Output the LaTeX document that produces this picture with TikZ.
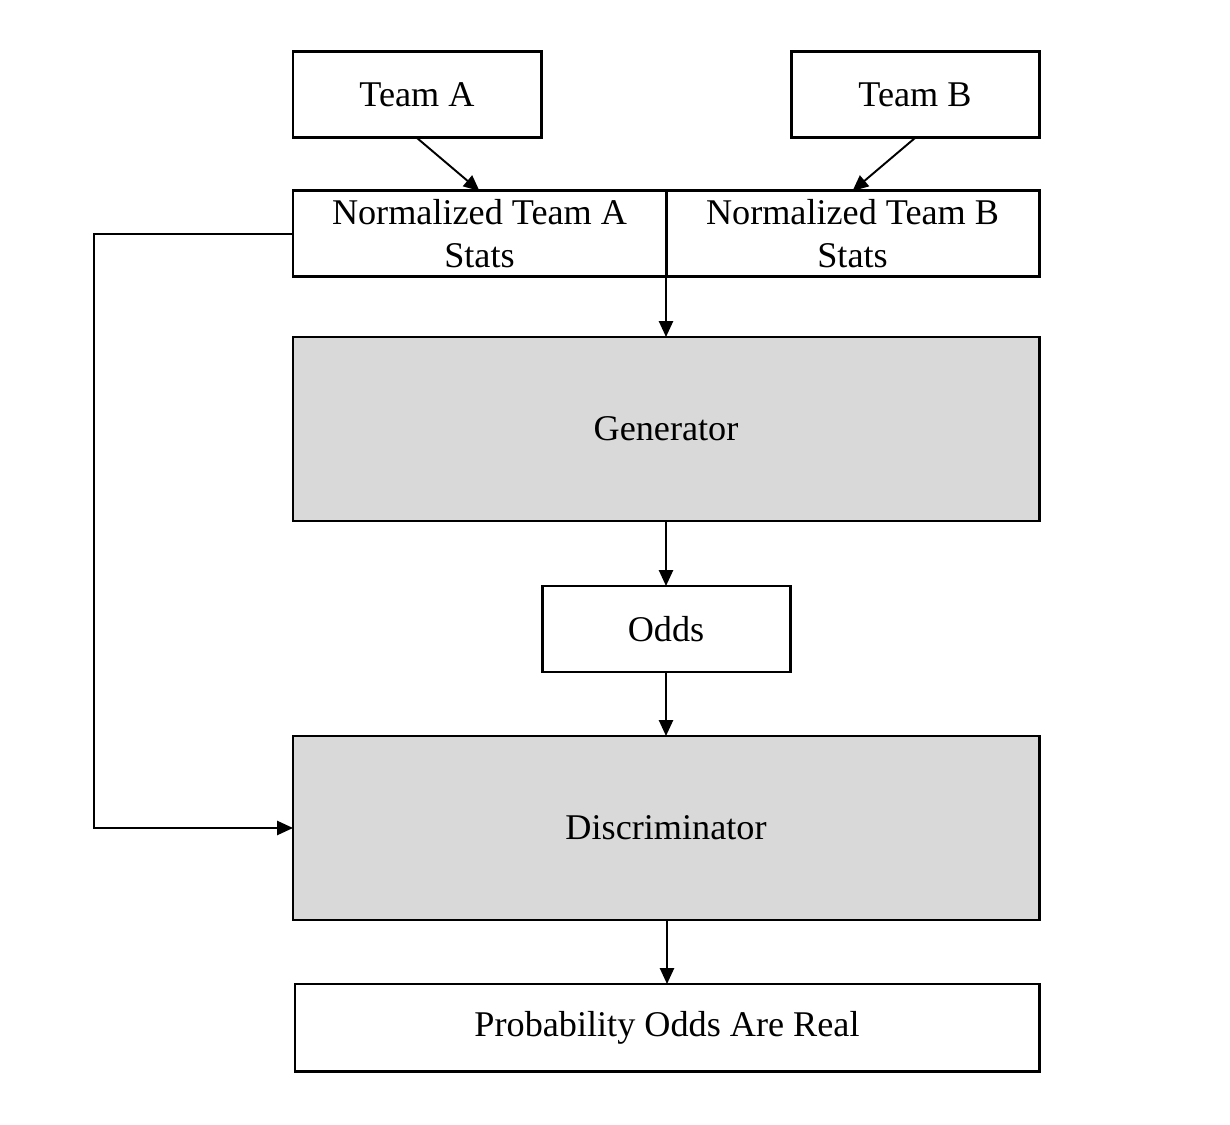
\documentclass[tikz,border=0pt]{standalone}
\usepackage{fontspec}
\setmainfont{Liberation Serif}
\usetikzlibrary{arrows.meta}

\begin{document}
\begin{tikzpicture}[
    >={Triangle[length=9pt, width=8pt]},
    box/.style = {draw, line width=1.7pt, rectangle, inner sep=0pt, outer sep=0pt,
    align=center, font=\fontsize{20.6}{24.5}\selectfont},
    small/.style = {box, minimum width=4.96cm, minimum height=1.72cm},
    half/.style = {box, minimum width=7.46cm, minimum height=1.72cm},
    big/.style = {box, fill={rgb,255:red,217;green,217;blue,217},
    minimum width=14.92cm, minimum height=3.68cm},
    link/.style = {line width=1.1pt},
]
\useasboundingbox (0,0) rectangle (24.6,22.48);

\node[small] (team_a) at (8.34,20.58) {\raisebox{-1.5pt}{Team A}};
\node[small] (team_b) at (18.30,20.58) {\raisebox{-1.5pt}{Team B}};
\node[half] (norm_a) at (9.59,17.80) {Normalized Team A\\Stats};
\node[half] (norm_b) at (17.05,17.80) {Normalized Team B\\Stats};
\node[big] (gen) at (13.32,13.90) {\raisebox{-1.5pt}{Generator}};
\node[small] (odds) at (13.32,9.90) {\raisebox{-1.5pt}{Odds}};
\node[big] (disc) at (13.32,5.92) {\raisebox{-1.5pt}{Discriminator}};
\node[box, minimum width=14.88cm, minimum height=1.74cm] (prob) at (13.34,1.93) {\raisebox{-1.5pt}{Probability Odds Are Real}};

\coordinate (bend_top) at (1.88,17.80);
\coordinate (bend_bot) at (1.88,5.92);

\draw [link, ->] (team_a.south) -- (norm_a.north);
\draw [link, ->] (team_b.south) -- (norm_b.north);
\draw [link, ->] (norm_a.south east) -- (gen.north);
\draw [link, ->] (gen.south) -- (odds.north);
\draw [link, ->] (odds.south) -- (disc.north);
\draw [link, ->] (prob.north |- disc.south) -- (prob.north);
\draw [link, ->] (norm_a.west) -- (bend_top) -- (bend_bot) -- (disc.west);

\end{tikzpicture}
\end{document}
